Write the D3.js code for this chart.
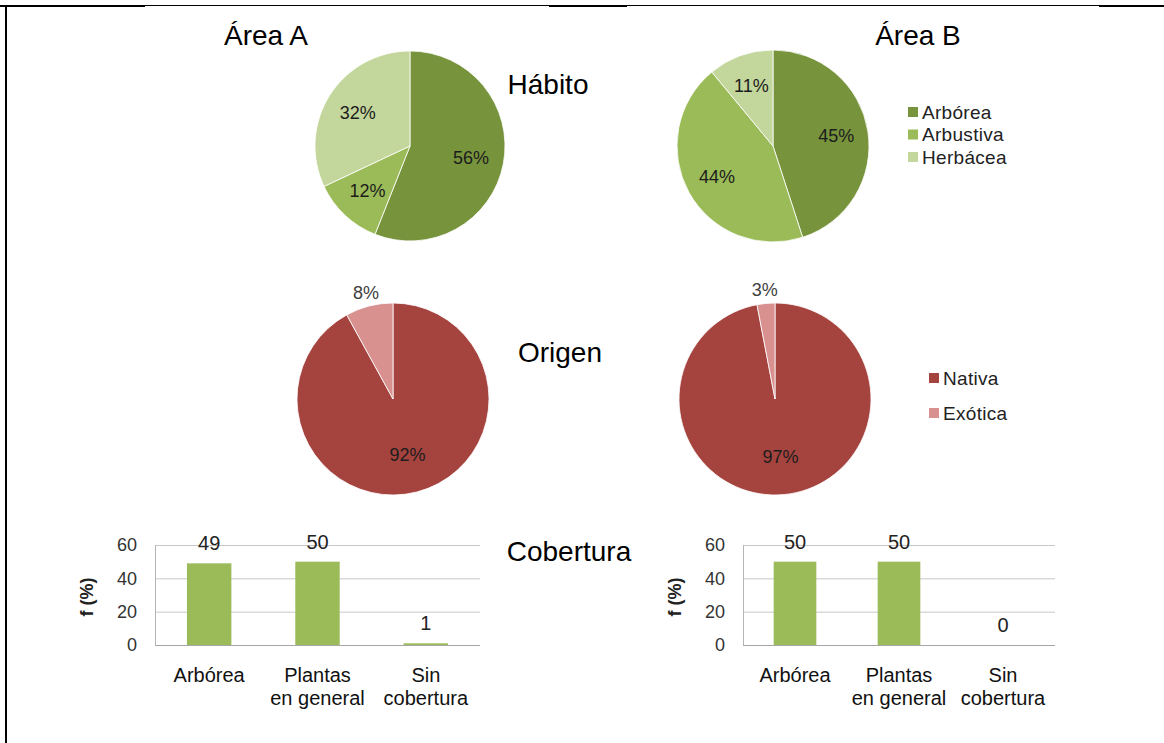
<!DOCTYPE html>
<html>
<head>
<meta charset="utf-8">
<script src="https://cdn.jsdelivr.net/npm/d3@7"></script>
<style>
  html, body { margin: 0; padding: 0; background: #fff; }
  svg { display: block; font-family: "Liberation Sans", Arial, sans-serif; }
</style>
</head>
<body>
<svg id="chart" width="1164" height="743"></svg>
<script>
// ---- data ----
const areas = ["Área A", "Área B"];
const habitCategories = ["Arbórea", "Arbustiva", "Herbácea"];
const habitA = [56, 12, 32];
const habitB = [45, 44, 11];
const originCategories = ["Nativa", "Exótica"];
const originA = [92, 8];
const originB = [97, 3];
const coverCategories = ["Arbórea", "Plantas\nen general", "Sin\ncobertura"];
const coverA = [49, 50, 1];
const coverB = [50, 50, 0];
const coverTicks = [0, 20, 40, 60];
const sectionTitles = ["Hábito", "Origen", "Cobertura"];

const habitColors = ["#77933C", "#9BBB59", "#C3D69B"];
const originColors = ["#A5433F", "#D8918F"];
const barColor = "#9BBB59";

const svg = d3.select("#chart");
const FONT = "'Liberation Sans', Arial, sans-serif";

// ---- page frame ----
svg.append("line").attr("x1", 145).attr("x2", 1164).attr("y1", 5.5).attr("y2", 5.5)
  .attr("stroke", "#000").attr("stroke-width", 1);
[[0, 145], [549, 627], [1099, 1164]].forEach(([a, b]) => {
  svg.append("line").attr("x1", a).attr("x2", b).attr("y1", 6).attr("y2", 6)
    .attr("stroke", "#000").attr("stroke-width", 2);
});
svg.append("line").attr("x1", 6).attr("x2", 6).attr("y1", 5).attr("y2", 743)
  .attr("stroke", "#000").attr("stroke-width", 2);

// ---- titles ----
const titleFont = 28;
function title(x, y, txt) {
  svg.append("text").attr("x", x).attr("y", y).attr("text-anchor", "middle")
    .attr("font-size", titleFont).attr("fill", "#000").text(txt);
}
title(266, 45, areas[0]);
title(918, 45, areas[1]);
title(548, 94, sectionTitles[0]);
title(560, 362, sectionTitles[1]);
title(569, 561, sectionTitles[2]);

// ---- pies ----
function drawPie(cx, cy, r, values, colors, labelRadius) {
  const g = svg.append("g").attr("transform", `translate(${cx},${cy})`);
  const pie = d3.pie().sort(null).value(d => d);
  const arcs = pie(values);
  const arc = d3.arc().innerRadius(0).outerRadius(r);
  g.selectAll("path").data(arcs).join("path")
    .attr("d", arc)
    .attr("fill", (d, i) => colors[i])
    .attr("stroke", "#fff").attr("stroke-width", 0.8);
  arcs.forEach(d => {
    const share = d.value / d3.sum(values);
    const outside = share < 0.1 && values.length === 2;
    const lr = outside ? r + 13 : labelRadius;
    const la = d3.arc().innerRadius(lr).outerRadius(lr);
    const [x, y] = la.centroid(d);
    g.append("text")
      .attr("x", x).attr("y", y)
      .attr("text-anchor", "middle").attr("dominant-baseline", "central")
      .attr("font-size", 18)
      .attr("fill", outside ? "#404040" : "#1c1c1c")
      .text(d.value + "%");
  });
}

drawPie(410, 146, 95, habitA, habitColors, 62);
drawPie(773, 146, 96, habitB, habitColors, 64);
drawPie(393, 399, 96, originA, originColors, 58);
drawPie(775, 399, 96, originB, originColors, 58);

// ---- legends ----
function drawLegend(x, y, step, cats, colors) {
  const g = svg.append("g").attr("transform", `translate(${x},${y})`);
  cats.forEach((c, i) => {
    g.append("rect").attr("x", 0).attr("y", i * step - 5).attr("width", 10).attr("height", 10)
      .attr("fill", colors[i]);
    g.append("text").attr("x", 14).attr("y", i * step)
      .attr("dominant-baseline", "central").attr("font-size", 19)
      .attr("letter-spacing", 0.3).attr("fill", "#222")
      .text(c);
  });
}
drawLegend(908, 112, 22.5, habitCategories, habitColors);
drawLegend(929, 378, 35, originCategories, originColors);

// ---- bar charts ----
function drawBars(x0, x1, values) {
  const yTop = 545, yBot = 645;
  const x = d3.scaleBand().domain(coverCategories).range([x0, x1]).paddingInner(0.59).paddingOuter(0.295);
  const y = d3.scaleLinear().domain([0, 60]).range([yBot, yTop]);
  const g = svg.append("g");

  // gridlines
  g.selectAll("line.grid").data(coverTicks).join("line")
    .attr("x1", x0).attr("x2", x1)
    .attr("y1", d => y(d) + 0.5).attr("y2", d => y(d) + 0.5)
    .attr("stroke", d => d === 0 ? "#a6a6a6" : "#c8c8c8").attr("stroke-width", 1);
  g.append("line").attr("x1", x0 + 0.5).attr("x2", x0 + 0.5).attr("y1", yTop).attr("y2", yBot)
    .attr("stroke", "#b5b5b5");

  // y axis labels
  const ax = g.append("g").attr("transform", `translate(${x0 - 4},0)`)
    .call(d3.axisLeft(y).tickValues(coverTicks).tickSize(0).tickPadding(14));
  ax.select(".domain").remove();
  ax.selectAll("text").attr("font-size", 18).attr("fill", "#333")
    .attr("font-family", FONT);

  // axis title
  g.append("text")
    .attr("transform", `translate(${x0 - 68},${(yTop + yBot) / 2 + 2}) rotate(-90)`)
    .attr("text-anchor", "middle").attr("dominant-baseline", "central")
    .attr("font-size", 18).attr("font-weight", "bold").attr("fill", "#222")
    .text("f (%)");

  // bars
  g.selectAll("rect.bar").data(values).join("rect")
    .attr("x", (d, i) => x(coverCategories[i]))
    .attr("width", x.bandwidth())
    .attr("y", d => y(d))
    .attr("height", d => yBot - y(d))
    .attr("fill", barColor);

  // value labels
  g.selectAll("text.val").data(values).join("text")
    .attr("x", (d, i) => x(coverCategories[i]) + x.bandwidth() / 2)
    .attr("y", d => y(d) - 20)
    .attr("text-anchor", "middle").attr("dominant-baseline", "central")
    .attr("font-size", 20).attr("fill", "#222")
    .text(d => d);

  // category labels
  coverCategories.forEach(c => {
    const lines = c.split("\n");
    const cx = x(c) + x.bandwidth() / 2;
    const t = g.append("text")
      .attr("x", cx).attr("y", 682)
      .attr("text-anchor", "middle").attr("font-size", 20).attr("fill", "#111");
    lines.forEach((ln, k) => {
      t.append("tspan").attr("x", cx).attr("dy", k === 0 ? 0 : 23).text(ln);
    });
  });
}

drawBars(155, 480, coverA);
drawBars(743, 1055, coverB);
</script>
</body>
</html>
